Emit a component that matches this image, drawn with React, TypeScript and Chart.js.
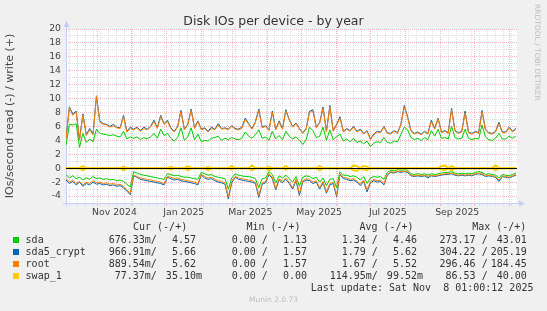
import React, { useEffect, useRef } from 'react';
import { Chart, registerables } from 'chart.js';

Chart.register(...registerables);

// ---- time axis: 400-day window ending Sat Nov 8 2025 01:00 ----
const START_MS = Date.UTC(2024, 9, 4, 1, 0, 0);
const RANGE_DAYS = 400;
const STEP_DAYS = 3;
const firstMonday = '2024-10-07';
const monthStarts = ['2024-11-01', '2024-12-01', '2025-01-01', '2025-02-01', '2025-03-01', '2025-04-01', '2025-05-01', '2025-06-01', '2025-07-01', '2025-08-01', '2025-09-01', '2025-10-01', '2025-11-01'];
const monthLabels = ['Nov 2024', 'Jan 2025', 'Mar 2025', 'May 2025', 'Jul 2025', 'Sep 2025'];
const monthLabelFrom = ['2024-11-01', '2025-01-01', '2025-03-01', '2025-05-01', '2025-07-01', '2025-09-01'];
const monthLabelTo = ['2024-12-01', '2025-02-01', '2025-04-01', '2025-06-01', '2025-08-01', '2025-10-01'];

// ---- y axis ----
const Y_MIN = -5;
const Y_MAX = 20;
const yGridValues = [-5, -4, -3, -2, -1, 0, 1, 2, 3, 4, 5, 6, 7, 8, 9, 10, 11, 12, 13, 14, 15, 16, 17, 18, 19, 20];

// ---- series (one sample every 3 days) ----
const sdaWrite = [
  3.3, 6.3, 6.2, 6.4, 3.0, 5.0, 3.7, 4.2, 3.8, 5.6,
  5.0, 4.9, 4.8, 4.7, 4.8, 4.6, 4.5, 5.3, 4.2, 4.5,
  4.3, 4.5, 4.1, 4.4, 4.2, 4.5, 5.0, 4.3, 5.6, 4.7,
  5.0, 4.3, 3.9, 4.4, 5.8, 4.0, 4.5, 5.8, 4.1, 4.9,
  3.8, 4.0, 3.9, 4.3, 4.4, 4.6, 4.0, 4.3, 4.1, 4.4,
  4.2, 4.1, 4.3, 5.2, 4.6, 4.3, 4.8, 5.5, 4.3, 4.5,
  4.0, 5.3, 4.2, 4.7, 4.1, 5.3, 4.6, 4.2, 4.5, 4.0,
  3.4, 4.1, 5.9, 5.4, 4.4, 4.6, 5.9, 4.0, 5.5, 4.1,
  4.5, 4.9, 3.9, 4.2, 3.8, 4.3, 3.7, 3.9, 3.5, 3.9,
  3.1, 3.6, 3.8, 3.7, 4.4, 3.7, 3.6, 3.9, 3.8, 4.8,
  5.9, 5.5, 4.4, 4.1, 4.3, 4.0, 4.4, 4.1, 5.4, 4.6,
  5.6, 4.3, 4.4, 4.2, 6.0, 4.4, 4.2, 4.3, 5.6, 4.3,
  4.1, 4.3, 4.2, 6.2, 4.5, 4.1, 4.0, 4.3, 5.0, 4.2,
  4.2, 4.6, 4.3, 4.6,
];
const sdaRead = [
  -0.9, -1.4, -1.1, -1.5, -1.3, -1.7, -1.4, -1.6, -1.2, -1.5,
  -1.4, -1.6, -1.5, -1.7, -1.6, -1.8, -1.7, -1.9, -2.3, -2.7,
  -0.5, -0.7, -0.9, -1.0, -1.1, -1.2, -1.3, -1.4, -1.5, -1.6,
  -0.8, -0.9, -1.1, -1.0, -1.2, -1.3, -1.3, -1.4, -1.5, -1.6,
  -0.6, -0.8, -1.0, -0.9, -1.2, -1.3, -1.4, -1.5, -3.0, -1.4,
  -0.8, -1.0, -1.1, -1.2, -1.2, -1.3, -1.5, -2.8, -1.5, -1.4,
  -0.5, -0.9, -2.1, -1.1, -1.4, -1.0, -1.5, -2.0, -1.2, -2.6,
  -1.3, -1.1, -1.2, -1.5, -1.3, -2.0, -1.4, -2.5, -1.6, -1.5,
  -2.8, -0.5, -1.0, -1.0, -1.2, -1.1, -1.3, -1.7, -1.2, -2.2,
  -1.4, -1.2, -1.3, -1.2, -1.6, -0.6, -0.3, -0.4, -0.2, -0.3,
  -0.2, -0.3, -0.8, -0.9, -0.8, -0.9, -0.8, -1.0, -0.8, -0.9,
  -0.8, -0.7, -0.6, -0.6, -0.5, -0.7, -0.8, -0.7, -0.8, -0.7,
  -0.8, -0.6, -0.5, -0.6, -0.9, -0.8, -0.9, -1.0, -1.4, -0.9,
  -1.0, -1.1, -0.9, -0.7,
];
const sda5Write = [
  4.3, 8.8, 7.8, 8.2, 4.1, 7.8, 4.8, 5.7, 4.9, 10.4,
  6.8, 6.4, 6.3, 6.0, 6.3, 5.9, 5.8, 7.6, 5.3, 5.9,
  5.6, 5.9, 5.4, 5.9, 5.6, 6.0, 6.9, 5.8, 7.6, 6.4,
  6.9, 5.8, 5.3, 6.0, 8.3, 5.6, 6.3, 8.5, 5.8, 6.8,
  5.6, 5.8, 5.3, 5.9, 5.6, 6.4, 5.7, 5.8, 5.6, 6.1,
  5.7, 5.6, 5.9, 7.2, 6.4, 5.7, 6.7, 8.5, 5.9, 6.1,
  5.5, 8.2, 5.6, 6.8, 5.7, 8.4, 7.0, 6.0, 6.5, 5.7,
  5.1, 5.7, 8.2, 8.4, 5.9, 6.6, 8.8, 5.3, 9.0, 5.4,
  6.3, 7.4, 5.3, 5.7, 5.4, 6.0, 5.3, 5.6, 5.0, 5.4,
  4.2, 4.9, 5.3, 5.2, 6.0, 5.1, 5.0, 5.4, 5.1, 6.3,
  9.0, 7.4, 5.4, 5.0, 5.2, 4.9, 5.3, 5.0, 6.9, 5.7,
  7.2, 5.2, 5.4, 5.1, 8.6, 5.4, 5.1, 5.3, 8.2, 5.2,
  5.0, 5.3, 5.1, 8.3, 5.6, 5.1, 5.0, 5.3, 6.6, 5.2,
  5.2, 5.9, 5.3, 5.7,
];
const sda5Read = [
  -1.7, -2.2, -1.9, -2.4, -2.0, -2.6, -2.2, -2.4, -2.0, -2.3,
  -2.2, -2.4, -2.3, -2.5, -2.4, -2.6, -2.5, -2.8, -3.3, -3.8,
  -1.1, -1.3, -1.6, -1.7, -1.8, -1.9, -2.0, -2.1, -2.2, -2.4,
  -1.3, -1.5, -1.7, -1.6, -1.8, -1.9, -2.0, -2.1, -2.2, -2.4,
  -1.0, -1.4, -1.6, -1.5, -1.8, -2.0, -2.1, -2.3, -4.4, -2.1,
  -1.3, -1.6, -1.7, -1.8, -1.9, -2.0, -2.2, -4.2, -2.3, -2.1,
  -0.9, -1.5, -3.1, -1.7, -2.1, -1.6, -2.2, -3.0, -1.8, -3.9,
  -2.0, -1.7, -1.8, -2.2, -2.0, -3.0, -2.1, -3.6, -2.4, -2.2,
  -4.1, -0.9, -1.5, -1.6, -1.8, -1.7, -2.0, -2.5, -1.9, -3.4,
  -2.1, -1.8, -2.0, -1.9, -2.4, -1.0, -0.6, -0.7, -0.5, -0.6,
  -0.5, -0.6, -1.1, -1.2, -1.1, -1.2, -1.1, -1.4, -1.1, -1.2,
  -1.1, -1.0, -0.9, -0.9, -0.8, -1.0, -1.1, -1.0, -1.1, -1.0,
  -1.1, -0.9, -0.8, -0.9, -1.2, -1.1, -1.2, -1.3, -1.9, -1.2,
  -1.3, -1.4, -1.2, -1.0,
];
const rootWrite = [
  4.2, 8.7, 7.6, 8.1, 4.0, 7.6, 4.7, 5.5, 4.8, 10.3,
  6.6, 6.3, 6.2, 5.9, 6.1, 5.8, 5.7, 7.4, 5.2, 5.7,
  5.5, 5.8, 5.3, 5.7, 5.5, 5.9, 6.7, 5.7, 7.4, 6.3,
  6.7, 5.7, 5.2, 5.9, 8.1, 5.5, 6.2, 8.3, 5.7, 6.7,
  5.5, 5.7, 5.2, 5.7, 5.5, 6.2, 5.6, 5.7, 5.5, 6.0,
  5.6, 5.5, 5.7, 7.0, 6.3, 5.6, 6.6, 8.3, 5.8, 6.0,
  5.4, 8.0, 5.5, 6.6, 5.6, 8.2, 6.9, 5.9, 6.4, 5.6,
  5.0, 5.6, 8.0, 8.2, 5.8, 6.5, 8.6, 5.2, 8.8, 5.3,
  6.2, 7.2, 5.2, 5.6, 5.3, 5.9, 5.2, 5.5, 4.9, 5.3,
  4.1, 4.8, 5.2, 5.1, 5.9, 5.0, 4.9, 5.3, 5.0, 6.2,
  8.8, 7.2, 5.3, 4.9, 5.1, 4.8, 5.2, 4.9, 6.7, 5.6,
  7.1, 5.1, 5.3, 5.0, 8.4, 5.3, 5.0, 5.2, 7.9, 5.1,
  4.9, 5.2, 5.0, 8.1, 5.5, 5.0, 4.9, 5.2, 6.4, 5.1,
  5.1, 5.8, 5.2, 5.6,
];
const rootRead = [
  -1.5, -2.0, -1.7, -2.2, -1.9, -2.4, -2.0, -2.2, -1.8, -2.1,
  -2.0, -2.2, -2.1, -2.3, -2.2, -2.4, -2.3, -2.6, -3.1, -3.6,
  -1.0, -1.2, -1.4, -1.5, -1.6, -1.7, -1.8, -1.9, -2.0, -2.2,
  -1.2, -1.3, -1.5, -1.4, -1.6, -1.7, -1.8, -1.9, -2.0, -2.2,
  -0.9, -1.2, -1.4, -1.3, -1.6, -1.8, -1.9, -2.1, -4.1, -1.9,
  -1.2, -1.4, -1.5, -1.6, -1.7, -1.8, -2.0, -3.9, -2.1, -1.9,
  -0.8, -1.3, -2.9, -1.5, -1.9, -1.4, -2.0, -2.8, -1.6, -3.6,
  -1.8, -1.5, -1.6, -2.0, -1.8, -2.8, -1.9, -3.4, -2.2, -2.0,
  -3.9, -0.8, -1.3, -1.4, -1.6, -1.5, -1.8, -2.3, -1.7, -3.1,
  -1.9, -1.6, -1.8, -1.7, -2.2, -0.9, -0.5, -0.6, -0.4, -0.5,
  -0.4, -0.5, -1.0, -1.1, -1.0, -1.1, -1.0, -1.2, -1.0, -1.1,
  -1.0, -0.9, -0.8, -0.8, -0.7, -0.9, -1.0, -0.9, -1.0, -0.9,
  -1.0, -0.8, -0.7, -0.8, -1.1, -1.0, -1.1, -1.2, -1.7, -1.1,
  -1.2, -1.3, -1.1, -0.9,
];
const swapWrite = [
  0, 0, 0, 0, 0, 0.3, 0, 0, 0, 0,
  0, 0, 0, 0, 0, 0, 0, 0.2, 0, 0,
  0, 0, 0, 0, 0, 0, 0, 0, 0, 0,
  0, 0.2, 0, 0, 0, 0, 0.3, 0, 0, 0,
  0, 0, 0.2, 0, 0, 0, 0, 0, 0, 0.3,
  0, 0, 0, 0, 0, 0.4, 0, 0, 0, 0,
  0.2, 0, 0, 0, 0, 0.3, 0, 0, 0, 0,
  0, 0, 0, 0, 0, 0.3, 0, 0, 0, 0,
  0, 0, 0, 0, 0, 0.4, 0.3, 0, 0.3, 0.2,
  0, 0, 0, 0, 0, 0, 0, 0, 0, 0,
  0, 0, 0, 0, 0, 0, 0, 0, 0, 0,
  0, 0.3, 0.4, 0, 0.3, 0, 0, 0, 0, 0,
  0, 0, 0, 0, 0, 0, 0, 0.4, 0, 0,
  0, 0, 0, 0,
];
const swapRead = [
  0, 0, 0, 0, 0, -0.3, 0, 0, 0, 0,
  0, 0, 0, 0, 0, 0, 0, -0.3, 0, 0,
  0, 0, 0, 0, 0, 0, 0, 0, 0, 0,
  0, -0.2, 0, 0, 0, 0, -0.3, 0, 0, 0,
  0, 0, -0.3, 0, 0, 0, 0, 0, 0, -0.2,
  0, 0, 0, 0, 0, -0.3, 0, 0, 0, 0,
  -0.3, 0, 0, 0, 0, -0.2, 0, 0, 0, 0,
  0, 0, 0, 0, 0, -0.3, 0, 0, 0, 0,
  0, 0, 0, 0, 0, -0.3, -0.4, 0, -0.2, -0.3,
  0, 0, 0, 0, 0, 0, 0, 0, 0, 0,
  0, 0, 0, 0, 0, 0, 0, 0, 0, 0,
  0, -0.2, -0.3, 0, -0.3, 0, 0, 0, 0, 0,
  0, 0, 0, 0, 0, 0, 0, -0.3, 0, 0,
  0, 0, 0, 0,
];

// ---- legend ----
const seriesNames = ['sda', 'sda5_crypt', 'root', 'swap_1'];
const seriesColors = ['#00CC00', '#0066B3', '#FF8000', '#FFCC00'];
const legendHeaders = ['Cur (-/+)', 'Min (-/+)', 'Avg (-/+)', 'Max (-/+)'];
const curCol = [['676.33m/', '  4.57 '], ['966.91m/', '  5.66 '], ['889.54m/', '  5.62 '], [' 77.37m/', ' 35.10m']];
const minCol = [['  0.00 /', '  1.13 '], ['  0.00 /', '  1.57 '], ['  0.00 /', '  1.57 '], ['  0.00 /', '  0.00 ']];
const avgCol = [['  1.34 /', '  4.46 '], ['  1.79 /', '  5.62 '], ['  1.67 /', '  5.52 '], ['114.95m/', ' 99.52m']];
const maxCol = [['273.17 /', ' 43.01 '], ['304.22 /', '205.19 '], ['296.46 /', '184.45 '], [' 86.53 /', ' 40.00 ']];
const lastUpdate = 'Last update: Sat Nov  8 01:00:12 2025';

const W = 547;
const H = 311;
const MAJOR = '#F2BABA';
const MINOR = '#DEDEDE';
const AXIS = '#C6CCF5';

const key = (v: number) => Math.round(v * 1000);
const toPoints = (arr: number[]) => arr.map((v, i) => ({ x: i * STEP_DAYS, y: v }));

export default function App() {
  const ref = useRef<HTMLCanvasElement>(null);

  useEffect(() => {
    const dayOf = (s: string) => (Date.parse(s + 'T00:00:00Z') - START_MS) / 86400000;
    const kinds = new Map<number, string>();
    const labelAt = new Map<number, string>();
    const xt: number[] = [];
    monthStarts.forEach((s) => {
      const d = dayOf(s);
      xt.push(d);
      kinds.set(key(d), 'major');
    });
    const m0 = dayOf(firstMonday);
    for (let k = 0; m0 + 7 * k < RANGE_DAYS; k++) {
      const d = m0 + 7 * k;
      if (kinds.has(key(d))) continue;
      xt.push(d);
      kinds.set(key(d), 'minor');
    }
    monthLabels.forEach((l, i) => {
      const d = (dayOf(monthLabelFrom[i]) + dayOf(monthLabelTo[i])) / 2;
      xt.push(d);
      kinds.set(key(d), 'label');
      labelAt.set(key(d), l);
    });
    xt.sort((a, b) => a - b);

    const xColor = (ctx: any) => {
      if (!ctx.tick) return 'rgba(0,0,0,0)';
      const k = kinds.get(key(ctx.tick.value));
      return k === 'major' ? MAJOR : k === 'minor' ? MINOR : 'rgba(0,0,0,0)';
    };
    const yColor = (ctx: any) => {
      if (!ctx.tick) return 'rgba(0,0,0,0)';
      return Math.abs(ctx.tick.value) % 2 === 0 ? MAJOR : MINOR;
    };

    const rrdPlugin = {
      id: 'rrdStyle',
      beforeDraw(chart: any) {
        const { ctx, chartArea: a } = chart;
        ctx.save();
        ctx.fillStyle = '#F0F0F0';
        ctx.fillRect(0, 0, chart.width, chart.height);
        ctx.fillStyle = '#FFFFFF';
        ctx.fillRect(a.left, a.top, a.right - a.left, a.bottom - a.top);
        ctx.restore();
      },
      beforeDatasetsDraw(chart: any) {
        const { ctx, chartArea: a } = chart;
        ctx.save();
        ctx.strokeStyle = AXIS;
        ctx.fillStyle = AXIS;
        ctx.lineWidth = 1;
        const lx = Math.round(a.left) + 0.5;
        const by = Math.round(a.bottom) + 0.5;
        ctx.beginPath();
        ctx.moveTo(lx, a.bottom + 3);
        ctx.lineTo(lx, a.top - 3);
        ctx.moveTo(a.left - 3, by);
        ctx.lineTo(a.right + 3, by);
        ctx.stroke();
        ctx.beginPath();
        ctx.moveTo(lx - 3, a.top - 2);
        ctx.lineTo(lx + 3, a.top - 2);
        ctx.lineTo(lx, a.top - 8);
        ctx.closePath();
        ctx.fill();
        ctx.beginPath();
        ctx.moveTo(a.right + 2, by - 3);
        ctx.lineTo(a.right + 2, by + 3);
        ctx.lineTo(a.right + 8, by);
        ctx.closePath();
        ctx.fill();
        ctx.restore();
      },
      afterDatasetsDraw(chart: any) {
        const { ctx, chartArea: a } = chart;
        const y0 = Math.floor(chart.scales.y.getPixelForValue(0)) + 0.5;
        ctx.save();
        ctx.strokeStyle = '#000000';
        ctx.lineWidth = 1;
        ctx.beginPath();
        ctx.moveTo(a.left, y0);
        ctx.lineTo(a.right, y0);
        ctx.stroke();
        ctx.restore();
      },
    };

    const line = (data: number[], color: string, width = 1) => ({
      data: toPoints(data),
      borderColor: color,
      backgroundColor: color,
      borderWidth: width,
      pointRadius: 0,
      fill: false,
      tension: 0,
    });

    const tickFont = { family: 'DejaVu Sans', size: 9.3 };

    const chart = new Chart(ref.current as HTMLCanvasElement, {
      type: 'line',
      data: {
        datasets: [
          line(swapWrite, '#FFCC00', 2),
          line(swapRead, '#FFCC00', 2),
          line(rootWrite, '#FF8000'),
          line(rootRead, '#FF8000'),
          line(sda5Write, '#0066B3'),
          line(sda5Read, '#0066B3'),
          line(sdaWrite, '#00CC00'),
          line(sdaRead, '#00CC00'),
        ] as any,
      },
      options: {
        animation: false,
        responsive: false,
        maintainAspectRatio: false,
        devicePixelRatio: 1,
        layout: { padding: { left: 0, right: 30, top: 29, bottom: 0 } },
        plugins: { legend: { display: false }, tooltip: { enabled: false }, title: { display: false } },
        scales: {
          x: {
            type: 'linear',
            min: 0,
            max: RANGE_DAYS,
            afterBuildTicks: (s: any) => {
              s.ticks = xt.map((v) => ({ value: v }));
            },
            afterFit: (s: any) => {
              s.height = 108;
            },
            ticks: {
              autoSkip: false,
              maxRotation: 0,
              minRotation: 0,
              padding: 1,
              color: '#444',
              font: tickFont,
              callback: (v: any) => labelAt.get(key(Number(v))) ?? '',
            },
            grid: { color: xColor, tickColor: xColor, lineWidth: 1, drawTicks: true, tickLength: 3 },
            border: { display: false, dash: [1, 1] },
          },
          y: {
            type: 'linear',
            min: Y_MIN,
            max: Y_MAX,
            afterBuildTicks: (s: any) => {
              s.ticks = yGridValues.map((v) => ({ value: v }));
            },
            afterFit: (s: any) => {
              s.width = 66;
            },
            ticks: {
              autoSkip: false,
              padding: 5,
              color: '#444',
              font: tickFont,
              callback: (v: any) => (Math.abs(Number(v)) % 2 === 0 ? String(v) : ''),
            },
            grid: { color: yColor, lineWidth: 1, drawTicks: false },
            border: { display: false, dash: [1, 1] },
            title: {
              display: true,
              text: 'IOs/second read (-) / write (+)',
              color: '#444',
              font: { family: 'DejaVu Sans', size: 11 },
              padding: { top: 4, bottom: 0 },
            },
          },
        },
      } as any,
      plugins: [rrdPlugin],
    });
    return () => chart.destroy();
  }, []);

  const mono: React.CSSProperties = {
    position: 'absolute',
    fontFamily: "'DejaVu Sans Mono', monospace",
    fontSize: 10,
    lineHeight: '12px',
    color: '#333',
    whiteSpace: 'pre',
  };
  const header = [133, 246.4, 359.4, 472.2];
  const colEnds = [202, 313, 423, 532.8];
  const cols = [curCol, minCol, avgCol, maxCol];
  const headerY = 227;
  const rowY = [240, 252, 264, 276];
  const lastY = 288;
  const muninY = 300;
  const CW = 6.02;

  return (
    <div style={{ position: 'fixed', left: 0, top: 0, width: W, height: H, background: '#F0F0F0', overflow: 'hidden' }}>
      <canvas ref={ref} width={W} height={H} style={{ position: 'absolute', left: 0, top: 0, width: W, height: H }} />
      <div
        style={{
          position: 'absolute', left: 0, top: 13, width: W, textAlign: 'center',
          fontFamily: "'DejaVu Sans', sans-serif", fontSize: 12.5, lineHeight: '16px', color: '#333',
        }}
      >
        Disk IOs per device - by year
      </div>
      <div
        style={{
          position: 'absolute', left: 533, top: 4, writingMode: 'vertical-rl',
          fontFamily: "'DejaVu Sans', sans-serif", fontSize: 7.5, lineHeight: '9px', color: '#BDBDBD',
        }}
      >
        RRDTOOL / TOBI OETIKER
      </div>
      {legendHeaders.map((h, i) => (
        <div key={'h' + i} style={{ ...mono, left: header[i], top: headerY - 6 }}>{h}</div>
      ))}
      {seriesNames.map((n, r) => (
        <React.Fragment key={n}>
          <div style={{ position: 'absolute', left: 13, top: rowY[r] - 3, width: 6, height: 6, background: seriesColors[r] }} />
          <div style={{ ...mono, left: 25.6, top: rowY[r] - 6 }}>{n}</div>
          {cols.map((c, ci) => (
            <React.Fragment key={ci}>
              <div style={{ ...mono, right: W - (colEnds[ci] - 7 * CW - 3), top: rowY[r] - 6 }}>{c[r][0]}</div>
              <div style={{ ...mono, right: W - colEnds[ci], top: rowY[r] - 6 }}>{c[r][1]}</div>
            </React.Fragment>
          ))}
        </React.Fragment>
      ))}
      <div style={{ ...mono, left: 310.7, top: lastY - 6 }}>{lastUpdate}</div>
      <div
        style={{
          position: 'absolute', left: 0, width: W, top: muninY - 5, textAlign: 'center',
          fontFamily: "'DejaVu Sans', sans-serif", fontSize: 7.5, lineHeight: '10px', color: '#BDBDBD',
        }}
      >
        Munin 2.0.73
      </div>
    </div>
  );
}
